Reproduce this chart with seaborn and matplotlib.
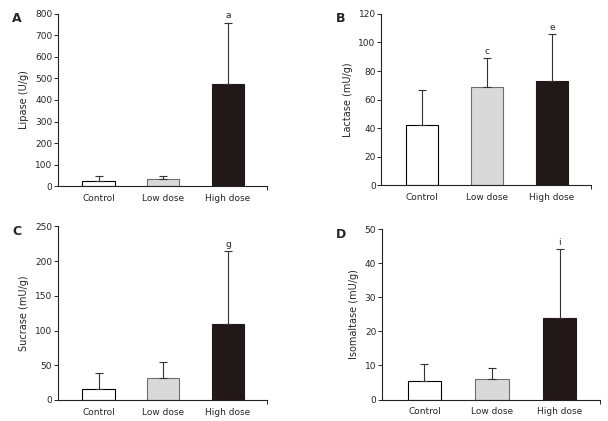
import matplotlib
matplotlib.use("Agg")
import matplotlib.pyplot as plt
import seaborn as sns
import numpy as np
import pandas as pd

groups = ["Control", "Low dose", "High dose"]

lipase = [22, 31, 474]
lipase_err = [24, 15, 286]
lactase = [42.5, 69, 73.3]
lactase_err = [24.3, 20.4, 32.5]
sucrase = [15.4, 31.3, 110]
sucrase_err = [23.1, 24, 104.5]
isomaltase = [5.4, 5.9, 23.8]
isomaltase_err = [5.1, 3.3, 20.4]

panels = [
    ("A", "Lipase (U/g)", lipase, lipase_err, 800, 100, {2: "a"}),
    ("B", "Lactase (mU/g)", lactase, lactase_err, 120, 20, {1: "c", 2: "e"}),
    ("C", "Sucrase (mU/g)", sucrase, sucrase_err, 250, 50, {2: "g"}),
    ("D", "Isomaltase (mU/g)", isomaltase, isomaltase_err, 50, 10, {2: "i"}),
]

# axes boxes in figure fraction [left, bottom, width, height]
boxes = [
    [0.095, 0.558, 0.344, 0.409],
    [0.627, 0.560, 0.345, 0.407],
    [0.095, 0.050, 0.344, 0.412],
    [0.628, 0.051, 0.359, 0.405],
]

fills = ["#ffffff", "#d9d9d9", "#231816"]
edges = ["#000000", "#6e6e6e", "#231816"]

sns.set_style("white")
plt.rcParams["font.family"] = ["DejaVu Sans"]

fig = plt.figure(figsize=(6.08, 4.21), dpi=100)

for (tag, ylab, vals, errs, ymax, step, marks), box in zip(panels, boxes):
    ax = fig.add_axes(box)
    df = pd.DataFrame({"group": groups, "value": vals})
    sns.barplot(data=df, x="group", y="value", hue="group", palette=fills,
                width=0.5, errorbar=None, legend=False, ax=ax)
    for patch, ec in zip(ax.patches, edges):
        patch.set_edgecolor(ec)
        patch.set_linewidth(0.8)
    pos = np.arange(len(groups))
    for i in range(len(groups)):
        ax.errorbar(pos[i], vals[i], yerr=[[0], [errs[i]]], fmt="none",
                    ecolor="#333333", elinewidth=0.8, capsize=3, capthick=0.8,
                    zorder=1)
    for i, letter in marks.items():
        ax.text(pos[i], vals[i] + errs[i] + ymax * 0.012, letter,
                ha="center", va="bottom", fontsize=6.5)
    ax.set_xlim(-0.63, 2.6)
    ax.set_ylim(0, ymax)
    ax.set_yticks(np.arange(0, ymax + step / 2, step))
    ax.set_xlabel("")
    ax.set_ylabel(ylab, fontsize=7)
    sns.despine(ax=ax)
    for s in ["left", "bottom"]:
        ax.spines[s].set_linewidth(0.8)
        ax.spines[s].set_color("#222222")
    ax.tick_params(axis="y", left=True, length=3, width=0.7, labelsize=6.5,
                   pad=1)
    ax.tick_params(axis="x", bottom=False, labelsize=6.5, pad=2)
    ax.set_xticks([2.6], minor=True)
    ax.tick_params(axis="x", which="minor", bottom=True, length=3, width=0.7)
    fig.text(box[0] - 0.075, box[1] + box[3] - 0.012, tag, fontsize=9,
             fontweight="bold", ha="left", va="center")

fig.savefig("out.png", dpi=100)
